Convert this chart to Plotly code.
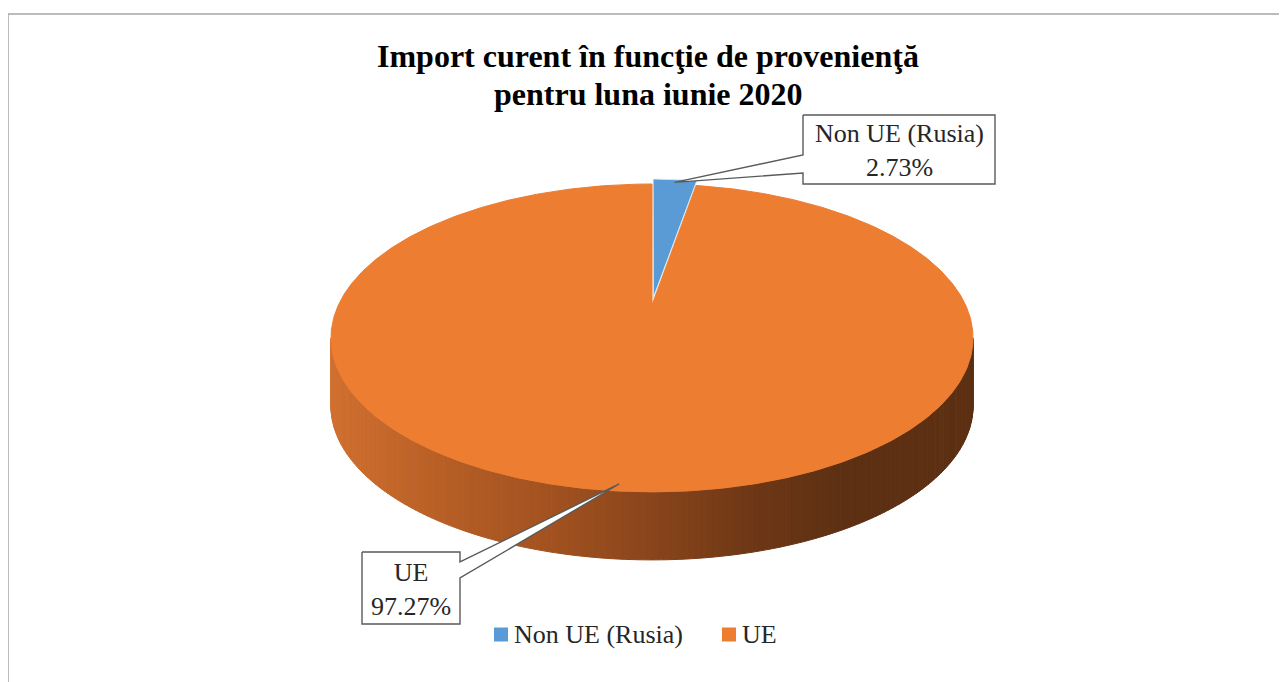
import numpy as np
import plotly.graph_objects as go

# ---- data ----
categories = ["Non UE (Rusia)", "UE"]
values = [2.73, 97.27]
colors = ["#5B9BD5", "#ED7D31"]
title_lines = ["Import curent în funcţie de provenienţă", "pentru luna iunie 2020"]

# ---- layout / geometry constants (pixel space of the window) ----
W, HT = 1287, 682
OFF = 8                    # page body margin
CX, CY = 652, 305          # pie apex
A, B, K = 313.6, 146.9, 0.214   # perspective ellipse parameters
DEPTH = 68                 # wall thickness
EXPLODE = [0.05, 0.0]
SERIF = "Liberation Serif, Times New Roman, serif"


def proj(u, v, dy=0.0):
    s = 1.0 / (1.0 - K * v)
    return CX + A * u * s, CY + B * v * s + dy


def clock(a_deg, r=1.0):
    a = np.radians(a_deg)
    return r * np.sin(a), -r * np.cos(a)


fig = go.Figure()

# ---- side wall (front arc) with horizontal gradient ----
grad_x = [335, 450, 560, 660, 760, 850, 975]
grad_r = [208, 182, 160, 135, 108, 93, 93]
grad_g = [112, 94, 81, 68, 55, 48, 49]
grad_b = [48, 38, 32, 27, 22, 19, 20]
a0 = np.degrees(np.arccos(-K))
a1 = 360 - a0
N = 180
edges = np.linspace(a0, a1, N + 1)
for i in range(N):
    aa = np.linspace(edges[i], edges[i + 1], 3)
    u, v = clock(aa)
    xt, yt = proj(u, v)
    xb, yb = proj(u, v, DEPTH)
    xs = np.concatenate([xt, xb[::-1], xt[:1]])
    ys = np.concatenate([yt, yb[::-1], yt[:1]])
    xm = float(np.mean(xt))
    c = "rgb(%d,%d,%d)" % (np.interp(xm, grad_x, grad_r), np.interp(xm, grad_x, grad_g), np.interp(xm, grad_x, grad_b))
    fig.add_trace(go.Scatter(x=xs, y=ys, mode="lines", fill="toself", fillcolor=c,
                             line=dict(color=c, width=1), hoverinfo="skip", showlegend=False))

# ---- top faces ----
total = sum(values)
start = 0.0
tips = []
for name, val, col, ex in zip(categories, values, colors, EXPLODE):
    span = 360.0 * val / total
    aa = np.linspace(start, start + span, max(4, int(span * 2)))
    mid = start + span / 2
    du, dv = clock(mid, ex)
    u, v = clock(aa)
    xs, ys = proj(np.concatenate([[du], u + du, [du]]), np.concatenate([[dv], v + dv, [dv]]))
    lc = "#dbe7f4" if ex > 0 else col
    fig.add_trace(go.Scatter(x=xs, y=ys, mode="lines", fill="toself", fillcolor=col,
                             line=dict(color=lc, width=1), hoverinfo="skip", showlegend=False))
    tu, tv = clock(mid, 0.97)
    tips.append(proj(tu + du, tv + dv))
    start += span

# ---- data label callouts ----
boxes = [
    dict(x0=803, x1=995, y0=115, y1=184, side="left", p0=155, p1=173),
    dict(x0=362, x1=460, y0=552, y1=624, side="right", p0=562, p1=578),
]
for name, val, bx, tip in zip(categories, values, boxes, tips):
    x0, x1, y0, y1 = bx["x0"], bx["x1"], bx["y0"], bx["y1"]
    if bx["side"] == "left":
        xs = [x0, x1, x1, x0, x0, tip[0], x0, x0]
        ys = [y0, y0, y1, y1, bx["p1"], tip[1], bx["p0"], y0]
    else:
        xs = [x0, x1, x1, tip[0], x1, x1, x0, x0]
        ys = [y0, y0, bx["p0"], tip[1], bx["p1"], y1, y1, y0]
    fig.add_trace(go.Scatter(x=xs, y=ys, mode="lines", fill="toself", fillcolor="white",
                             line=dict(color="#5a5a5a", width=1.4), hoverinfo="skip", showlegend=False))
    fig.add_annotation(x=(x0 + x1) / 2, y=(y0 + y1) / 2 + 1, xref="x", yref="y",
                       text=f"{name}<br>{val:.2f}%", showarrow=False,
                       font=dict(family=SERIF, size=26, color="#262626"),
                       xanchor="center", yanchor="middle")

# ---- legend (manual) ----
leg_x = [501, 729]
leg_y = 634.5
fig.add_trace(go.Scatter(x=leg_x, y=[leg_y] * 2, mode="markers",
                         marker=dict(symbol="square", size=14, color=colors),
                         hoverinfo="skip", showlegend=False))
for name, lx in zip(categories, leg_x):
    fig.add_annotation(x=lx + 11, y=leg_y, xref="x", yref="y", text=name, showarrow=False,
                       font=dict(family=SERIF, size=26, color="#262626"),
                       xanchor="left", yanchor="middle")

# ---- title ----
for line, ty in zip(title_lines, [56, 94]):
    fig.add_annotation(x=648, y=ty, xref="x", yref="y", text=f"<b>{line}</b>", showarrow=False,
                       font=dict(family=SERIF, size=32, color="black"),
                       xanchor="center", yanchor="middle")

# ---- chart-area border (top and left visible) ----
fig.add_shape(type="line", x0=8, x1=W, y0=14, y1=14, xref="x", yref="y",
              line=dict(color="#a6a6a6", width=1.5))
fig.add_shape(type="line", x0=8, x1=8, y0=14, y1=HT, xref="x", yref="y",
              line=dict(color="#a6a6a6", width=1.5))

fig.update_layout(
    width=W - OFF, height=HT - OFF, margin=dict(l=0, r=0, t=0, b=0),
    paper_bgcolor="white", plot_bgcolor="white", showlegend=False,
    xaxis=dict(range=[OFF, W], visible=False, fixedrange=True),
    yaxis=dict(range=[HT, OFF], visible=False, fixedrange=True),
)
fig.write_html("out.html")
